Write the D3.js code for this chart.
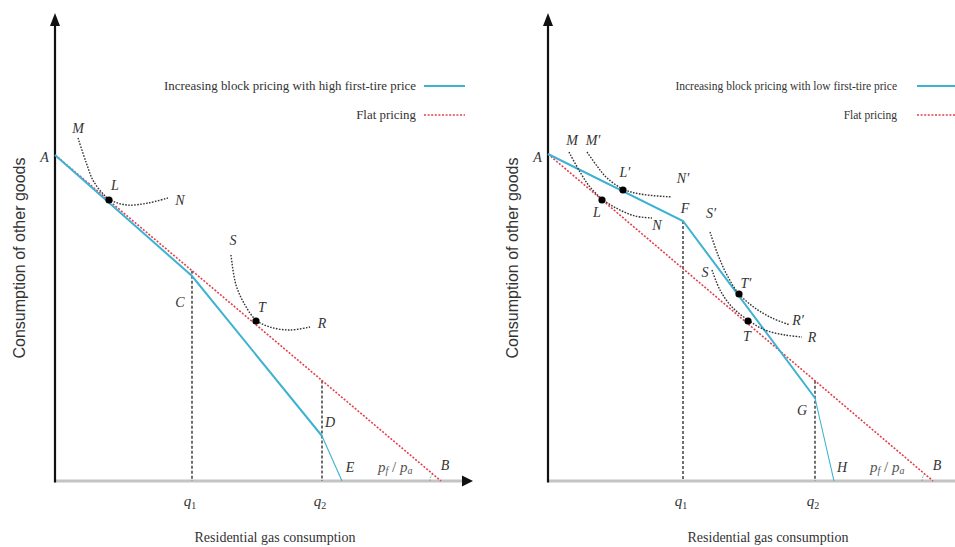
<!DOCTYPE html>
<html lang="en">

<head>
    <meta charset="utf-8">
    <script src="https://cdnjs.cloudflare.com/ajax/libs/d3/7.8.5/d3.min.js"></script>
    <style>
        body { margin: 0; background: #fff; }
    </style>
</head>

<body>
    <script>
        var w = 955;
        var h = 547;

        // data, in diagram units (x: gas, y: other goods)
        var leftBlock = [[0, 81.5], [34.25, 51.25], [66.75, 11.25], [71.75, 0]];
        var leftFlat = [[0, 81.5], [96.5, 0]];
        var leftQ = [34.25, 66.75];
        var leftCurves = [
            [[5.75, 85.75], [7.75, 79.75], [9.75, 74.75], [13.5, 70.5], [18, 69], [23.25, 69.5], [28.25, 70.75]],
            [[44, 56.5], [45.25, 49], [47.5, 44], [50.25, 40.25], [53.75, 38.5], [58.75, 37.75], [63.75, 38.5]]
        ];
        var leftPoints = [[13.5, 70.25], [50.25, 40]];
        var leftLabels = [
            ["A", -2.6, 81], ["M", 5.75, 88.25], ["L", 15, 74], ["N", 31.25, 70.25],
            ["S", 44.5, 60.25], ["T", 51.75, 43.5], ["R", 66.75, 39.5],
            ["C", 31.25, 44.75], ["D", 68.75, 14.75], ["E", 73.75, 3.5], ["B", 97.5, 4]
        ];
        var leftLegend = ["Increasing block pricing with high first-tire price", "Flat pricing"];

        var rightBlock = [[0, 81.75], [33.75, 65], [66.75, 20.75], [71.5, 0]];
        var rightFlat = [[0, 81.75], [96.25, 0]];
        var rightQ = [33.75, 66.75];
        var rightCurves = [
            [[5.25, 82.25], [8, 77.25], [10.5, 73.5], [13.5, 70.5], [17.5, 68], [21.75, 66.25], [26, 65.75]],
            [[9.75, 82.25], [12.25, 78.75], [14.75, 75.75], [18.75, 73], [23, 71.75], [31, 71]],
            [[40.5, 62.25], [42.5, 56.5], [44.75, 51.5], [47.75, 46.75], [51.75, 43.25], [56, 40.75], [60.5, 39]],
            [[41, 52.75], [43, 47.75], [46, 43.5], [50, 40.25], [54.25, 37.75], [59.25, 36.5], [63.5, 36]]
        ];
        var rightPoints = [[13.5, 70.25], [18.75, 72.75], [47.75, 46.75], [50, 40]];
        var rightLabels = [
            ["A", -2.6, 81], ["M", 6, 85.25], ["M′", 11.25, 85.25], ["L′", 19.25, 77.25], ["N′", 33.75, 75.75],
            ["L", 12.25, 67.25], ["N", 27.25, 64], ["F", 34.25, 68.25], ["S′", 40.75, 67],
            ["S", 39.25, 52.25], ["T′", 49.5, 49.5], ["R′", 62.5, 40.25], ["T", 49.75, 36.25],
            ["R", 66, 36], ["G", 63.5, 17.75], ["H", 73.5, 3.5], ["B", 97.25, 4]
        ];
        var rightLegend = ["Increasing block pricing with low first-tire price", "Flat pricing"];

        var xTitle = "Residential gas consumption";
        var yTitle = "Consumption of other goods";
        var qLabels = ["1", "2"];

        var blue = "#3db2d2";
        var red = "#e3404e";
        var serif = "'Liberation Serif', 'Times New Roman', serif";

        var svg = d3.select("body").append("svg")
            .attr("width", w)
            .attr("height", h)
            .style("display", "block");

        function flatAt(flat, q) {
            return flat[0][1] + (flat[1][1] - flat[0][1]) * (q - flat[0][0]) / (flat[1][0] - flat[0][0]);
        }
        function blockAt(block, q) {
            for (var i = 1; i < block.length; i++) {
                if (q <= block[i][0] + 1e-9) {
                    var a = block[i - 1], b = block[i];
                    return a[1] + (b[1] - a[1]) * (q - a[0]) / (b[0] - a[0]);
                }
            }
            return 0;
        }

        function italicLabel(g, txt, px, py, size) {
            return g.append("text")
                .attr("x", px)
                .attr("y", py)
                .attr("text-anchor", "middle")
                .attr("dominant-baseline", "central")
                .style("font-family", serif)
                .style("font-style", "italic")
                .style("font-size", size + "px")
                .style("fill", "#333")
                .text(txt);
        }

        function drawPanel(x0, block, flat, qs, curves, points, labels, legend, legendSize) {
            var x = d3.scaleLinear().domain([0, 100]).range([x0, x0 + 400]);
            var y = d3.scaleLinear().domain([0, 100]).range([481, 81]);
            var g = svg.append("g");
            var line = d3.line().x(d => x(d[0])).y(d => y(d[1]));

            // x axis (grey) with arrow
            g.append("line")
                .attr("x1", x(0)).attr("x2", x(102))
                .attr("y1", y(0)).attr("y2", y(0))
                .style("stroke", "#c4c4c4").style("stroke-width", 3);
            g.append("path")
                .attr("d", "M" + x(104.5) + "," + y(0) + "L" + (x(104.5) - 11) + "," + (y(0) - 5.5) + "L" + (x(104.5) - 11) + "," + (y(0) + 5.5) + "Z")
                .style("fill", "#111");

            // y axis with arrow
            g.append("line")
                .attr("x1", x(0)).attr("x2", x(0))
                .attr("y1", y(0) + 1.5).attr("y2", y(114))
                .style("stroke", "#111").style("stroke-width", 2.2);
            g.append("path")
                .attr("d", "M" + x(0) + "," + y(117) + "L" + (x(0) - 5) + "," + (y(117) + 13) + "L" + (x(0) + 5) + "," + (y(117) + 13) + "Z")
                .style("fill", "#111");

            // dashed verticals at the block thresholds
            qs.forEach(function (q) {
                var top = Math.max(flatAt(flat, q), blockAt(block, q));
                g.append("line")
                    .attr("x1", x(q)).attr("x2", x(q))
                    .attr("y1", y(top)).attr("y2", y(0))
                    .style("stroke", "#222").style("stroke-width", 1.3)
                    .style("stroke-dasharray", "3,2");
            });

            // flat pricing budget line
            g.append("path")
                .attr("d", line(flat))
                .style("fill", "none").style("stroke", red)
                .style("stroke-width", 1.6).style("stroke-dasharray", "2,1.6");

            // block pricing budget line
            g.append("path")
                .attr("d", line(block.slice(0, 3)))
                .style("fill", "none").style("stroke", blue).style("stroke-width", 2);
            g.append("path")
                .attr("d", line(block.slice(2)))
                .style("fill", "none").style("stroke", blue).style("stroke-width", 1.1);

            // indifference curves
            var curve = d3.line().x(d => x(d[0])).y(d => y(d[1])).curve(d3.curveCatmullRom.alpha(0.5));
            curves.forEach(function (c) {
                g.append("path")
                    .attr("d", curve(c))
                    .style("fill", "none").style("stroke", "#333")
                    .style("stroke-width", 1.4).style("stroke-dasharray", "1.6,1.4");
            });

            g.selectAll("circle.pt")
                .data(points)
                .enter()
                .append("circle")
                .attr("cx", d => x(d[0]))
                .attr("cy", d => y(d[1]))
                .attr("r", 3.6)
                .style("fill", "#000");

            // angle at B
            var bx = x(flat[1][0]), by = y(flat[1][1]);
            var ang = Math.atan2(y(flat[0][1]) - by, x(flat[0][0]) - bx);
            var r = 11;
            g.append("path")
                .attr("d", "M" + (bx - r) + "," + by + "A" + r + "," + r + " 0 0 1 " + (bx + r * Math.cos(ang)) + "," + (by + r * Math.sin(ang)))
                .style("fill", "none").style("stroke", "#6a8").style("stroke-width", 1)
                .style("stroke-dasharray", "1.5,1.5");

            // point labels
            labels.forEach(function (l) {
                italicLabel(g, l[0], x(l[1]), y(l[2]), 14);
            });

            // q tick labels
            qs.forEach(function (q, i) {
                var t = g.append("text")
                    .attr("x", x(q) - 2)
                    .attr("y", y(0) + 20)
                    .attr("text-anchor", "middle")
                    .attr("dominant-baseline", "central")
                    .style("font-family", serif)
                    .style("font-size", "15px")
                    .style("fill", "#333");
                t.append("tspan").style("font-style", "italic").text("q");
                t.append("tspan").attr("dy", 4).style("font-size", "10px").text(qLabels[i]);
            });

            // price ratio label
            var pr = g.append("text")
                .attr("x", x(flat[1][0]) - 63)
                .attr("y", y(3.5))
                .attr("text-anchor", "start")
                .attr("dominant-baseline", "central")
                .style("font-family", serif)
                .style("font-size", "15px")
                .style("fill", "#555");
            pr.append("tspan").style("font-style", "italic").text("p");
            pr.append("tspan").attr("dy", 3).style("font-size", "10px").style("font-style", "italic").text("f");
            pr.append("tspan").attr("dy", -3).text("  /  ");
            pr.append("tspan").style("font-style", "italic").text("p");
            pr.append("tspan").attr("dy", 3).style("font-size", "10px").style("font-style", "italic").text("a");

            // legend
            var ly = [86, 115];
            legend.forEach(function (txt, i) {
                g.append("text")
                    .attr("x", x0 + 361 - (x0 > 300 ? 12 : 0))
                    .attr("y", ly[i])
                    .attr("text-anchor", "end")
                    .attr("dominant-baseline", "central")
                    .style("font-family", serif)
                    .style("font-size", legendSize + "px")
                    .style("fill", "#333")
                    .text(txt);
                g.append("line")
                    .attr("x1", x0 + 369).attr("x2", x0 + 410)
                    .attr("y1", ly[i]).attr("y2", ly[i])
                    .style("stroke", i == 0 ? blue : red)
                    .style("stroke-width", i == 0 ? 2 : 1.6)
                    .style("stroke-dasharray", i == 0 ? null : "2,1.6");
            });

            // axis titles
            g.append("text")
                .attr("x", x0 + 220)
                .attr("y", 537)
                .attr("text-anchor", "middle")
                .attr("dominant-baseline", "central")
                .style("font-family", serif)
                .style("font-size", "14px")
                .style("fill", "#333")
                .text(xTitle);
            g.append("text")
                .attr("transform", "translate(" + (x0 - 36) + ",258) rotate(-90)")
                .attr("text-anchor", "middle")
                .attr("dominant-baseline", "central")
                .style("font-family", "'Liberation Sans', Arial, sans-serif")
                .style("font-size", "16px")
                .style("fill", "#333")
                .text(yTitle);
        }

        drawPanel(55, leftBlock, leftFlat, leftQ, leftCurves, leftPoints, leftLabels, leftLegend, 12.9);
        drawPanel(548, rightBlock, rightFlat, rightQ, rightCurves, rightPoints, rightLabels, rightLegend, 11.5);
    </script>
</body>

</html>
